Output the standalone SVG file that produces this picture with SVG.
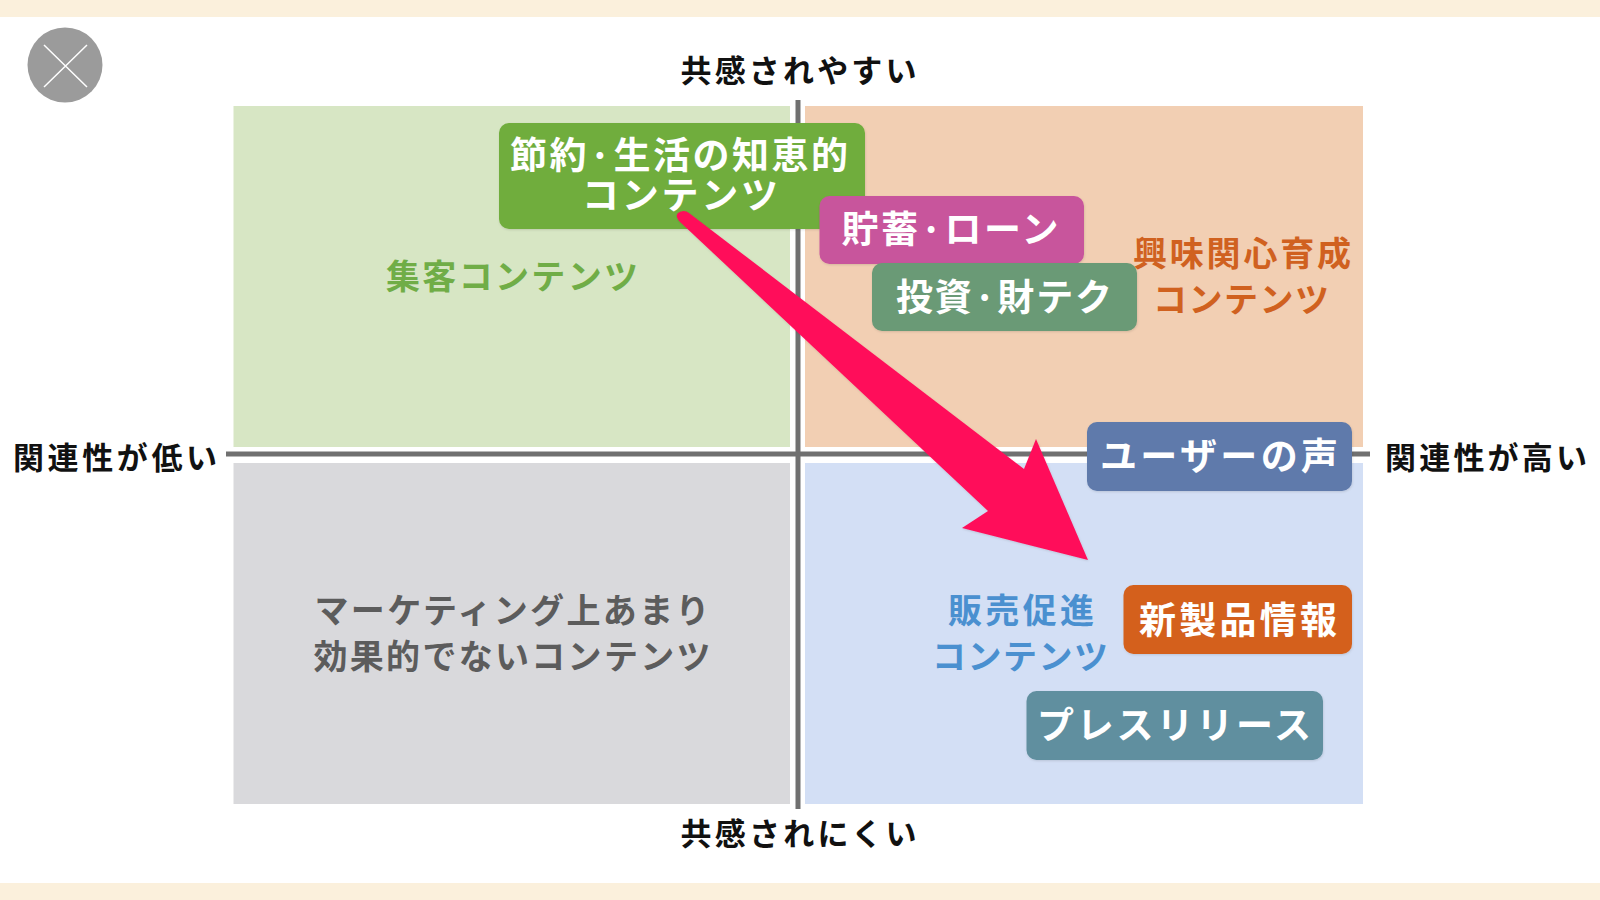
<svg xmlns="http://www.w3.org/2000/svg" width="1600" height="900" viewBox="0 0 1600 900">
<style>
text{font-family:"Noto Sans CJK JP","Noto Sans CJK SC",sans-serif;font-weight:700;text-anchor:middle}
.ax{font-size:31px;fill:#111}
.q{font-size:34px;font-weight:700}
.n{font-size:37px;fill:#fff;font-weight:700}
.axis{stroke:#707070;stroke-width:5;fill:none}
</style>
<defs>
<filter id="sh" x="-10%" y="-10%" width="120%" height="120%"><feDropShadow dx="0.500" dy="1" stdDeviation="1" flood-color="#000" flood-opacity=".12"/></filter>
</defs>
<rect width="1600" height="900" fill="#fff"/>
<rect width="1600" height="17" fill="#fbf0dc"/>
<rect y="883" width="1600" height="17" fill="#fbf0dc"/>
<g id="close">
<circle cx="65" cy="65" r="37.5" fill="#9b9b9b"/>
<path d="M44 45L87 87M87 45L44 87" stroke="#fff" stroke-width="1.500" fill="none"/>
</g>
<g id="q-top-left"><rect x="233.500" y="106" width="556.500" height="341" fill="#d7e6c4"/>
<text class="q" x="512" y="289" textLength="252" fill="#70ad47">集客コンテンツ</text></g>
<g id="q-top-right"><rect x="805" y="106" width="558" height="341" fill="#f2cfb3"/>
<text class="q" x="1242" y="266" textLength="218" fill="#d0611f">興味関心育成</text>
<text class="q" x="1241" y="312" textLength="176" fill="#d0611f">コンテンツ</text></g>
<g id="q-bottom-left"><rect x="233.500" y="463" width="556.500" height="341" fill="#d9d9dc"/>
<text class="q" x="512" y="623" textLength="395" fill="#5c5c5c">マーケティング上あまり</text>
<text class="q" x="512" y="669" textLength="397" fill="#5c5c5c">効果的でないコンテンツ</text></g>
<g id="q-bottom-right"><rect x="805" y="463" width="558" height="341" fill="#d3dff5"/>
<text class="q" x="1021" y="623" textLength="146" fill="#4a90d0">販売促進</text>
<text class="q" x="1020" y="669" textLength="176" fill="#4a90d0">コンテンツ</text></g>
<g id="axes">
<path class="axis" d="M798 100V809"/>
<path class="axis" d="M226 454H1370"/>
</g>
<g id="label-top"><text class="ax" x="798.500" y="82" textLength="236">共感されやすい</text></g>
<g id="label-bottom"><text class="ax" x="798.500" y="845" textLength="236">共感されにくい</text></g>
<g id="label-left"><text class="ax" x="115" y="469" textLength="204">関連性が低い</text></g>
<g id="label-right"><text class="ax" x="1486" y="469" textLength="202">関連性が高い</text></g>
<g id="node-setsuyaku"><rect x="499" y="123" width="366" height="106" rx="10" fill="#70ad3c" filter="url(#sh)"/>
<text class="n" x="679" y="169"><tspan textLength="338">節約·生活の知恵的</tspan><tspan x="680" y="209" textLength="196">コンテンツ</tspan></text></g>
<g id="node-chochiku"><rect x="819.500" y="196" width="264.500" height="68" rx="10" fill="#c8559c" filter="url(#sh)"/>
<text class="n" x="950" y="243" textLength="217">貯蓄·ローン</text></g>
<g id="node-toshi"><rect x="872" y="263" width="265" height="68" rx="10" fill="#6b9a76" filter="url(#sh)"/>
<text class="n" x="1004" y="311" textLength="216">投資·財テク</text></g>
<g id="node-voice"><rect x="1087" y="422" width="265" height="69" rx="10" fill="#5f7aab" filter="url(#sh)"/>
<text class="n" x="1219" y="470" textLength="238">ユーザーの声</text></g>
<g id="node-new"><rect x="1123.500" y="585" width="228.500" height="69" rx="10" fill="#d4611c" filter="url(#sh)"/>
<text class="n" x="1238" y="634" textLength="198">新製品情報</text></g>
<g id="node-press"><rect x="1026.500" y="691" width="296.500" height="69" rx="10" fill="#608f9f" filter="url(#sh)"/>
<text class="n" x="1174" y="739" textLength="274">プレスリリース</text></g>
<g id="connectors">
<path d="M689 213L1024 469L1036 439L1088 560L962 528L988 511L679 221Q675 216 678 213Q684 209 689 213Z" fill="#ff0f5a" filter="url(#sh)"/>
</g>
</svg>
